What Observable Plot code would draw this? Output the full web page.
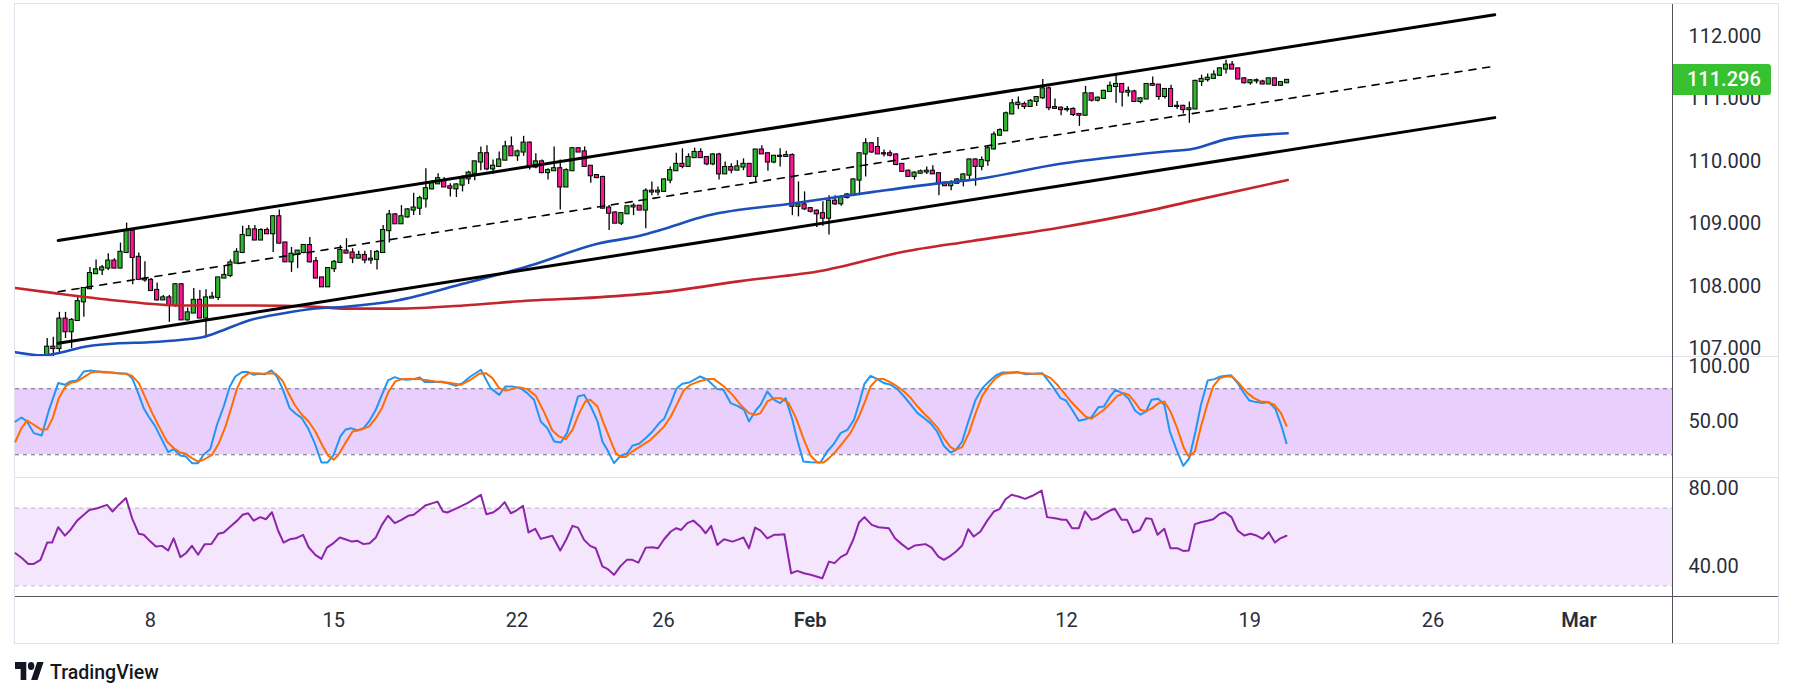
<!DOCTYPE html>
<html><head><meta charset="utf-8">
<script src="https://cdn.jsdelivr.net/npm/d3@7"></script>
<script src="https://cdn.jsdelivr.net/npm/@observablehq/plot@0.6"></script>
<style>
html,body{margin:0;padding:0;background:#fff;width:1793px;height:697px;overflow:hidden;font-family:Roboto,sans-serif;}
.abs{position:absolute;}
.pane{position:absolute;left:15px;width:1763px;}
.pane svg{display:block;max-width:none;}
</style></head><body>
<div id="frame" class="abs" style="left:14px;top:3px;width:1765px;height:641px;border:1px solid #e0e3eb;box-sizing:border-box;"></div>
<div id="p-main" class="pane" style="top:4px;"></div>
<div id="p-stoch" class="pane" style="top:356px;"></div>
<div id="p-rsi" class="pane" style="top:478px;"></div>
<div id="p-time" class="pane" style="top:597px;"></div>
<script>
// ---------- data ----------
// 4h candles [open, high, low, close], bar index 0..203
const candles = [
[106.80,107.16,106.70,107.02],[107.02,107.18,106.86,107.00],[107.00,107.58,106.92,107.47],[107.47,107.58,107.16,107.27],
[107.27,107.48,107.00,107.45],[107.45,107.82,107.44,107.75],[107.75,107.97,107.50,107.96],[107.96,108.30,107.94,108.20],
[108.20,108.42,108.19,108.26],[108.26,108.33,108.17,108.29],[108.29,108.52,108.25,108.40],[108.40,108.44,108.28,108.29],
[108.29,108.69,108.28,108.54],[108.54,109.01,108.52,108.88],[108.88,108.89,108.02,108.46],[108.46,108.53,108.09,108.11],
[108.11,108.39,108.06,108.10],[108.09,108.12,107.92,107.93],[107.93,108.05,107.76,107.78],[107.78,107.85,107.77,107.81],
[107.81,107.85,107.42,107.69],[107.69,108.04,107.66,108.02],[108.02,108.04,107.45,107.46],[107.46,107.65,107.44,107.57],
[107.57,107.96,107.56,107.77],[107.77,107.93,107.48,107.49],[107.49,107.94,107.21,107.81],[107.81,107.90,107.80,107.82],
[107.82,108.14,107.77,108.13],[108.13,108.33,108.12,108.17],[108.17,108.42,108.14,108.37],[108.37,108.60,108.36,108.54],
[108.54,108.96,108.53,108.81],[108.81,108.97,108.80,108.90],[108.90,108.97,108.73,108.74],[108.74,108.92,108.73,108.89],
[108.89,108.93,108.83,108.84],[108.84,109.13,108.54,109.11],[109.11,109.22,108.68,108.69],[108.69,108.70,108.38,108.39],
[108.39,108.62,108.22,108.51],[108.51,108.57,108.28,108.56],[108.54,108.65,108.52,108.65],[108.65,108.78,108.37,108.39],
[108.39,108.46,108.12,108.13],[108.13,108.14,107.98,107.99],[107.99,108.30,107.98,108.28],[108.28,108.41,108.22,108.38],
[108.38,108.65,108.36,108.57],[108.56,108.76,108.52,108.53],[108.53,108.60,108.36,108.45],[108.45,108.56,108.44,108.49],
[108.49,108.56,108.36,108.42],[108.42,108.57,108.35,108.43],[108.43,108.57,108.26,108.54],[108.54,108.97,108.53,108.89],
[108.89,109.21,108.69,109.14],[109.14,109.16,108.99,109.00],[109.00,109.29,108.99,109.11],[109.11,109.24,109.09,109.22],
[109.22,109.49,109.13,109.25],[109.25,109.44,109.13,109.40],[109.40,109.88,109.25,109.56],[109.56,109.69,109.54,109.64],
[109.64,109.80,109.63,109.72],[109.69,109.74,109.58,109.59],[109.59,109.64,109.43,109.57],[109.56,109.64,109.42,109.62],
[109.62,109.77,109.51,109.72],[109.72,109.84,109.63,109.81],[109.81,109.99,109.69,109.99],[109.99,110.23,109.85,110.12],
[110.12,110.25,109.85,109.88],[109.88,110.02,109.79,109.92],[109.92,110.15,109.91,110.02],[110.02,110.32,110.01,110.23],
[110.23,110.39,110.08,110.09],[110.09,110.18,110.00,110.15],[110.15,110.40,110.08,110.29],[110.29,110.31,109.86,109.93],
[109.91,110.12,109.88,109.99],[109.99,110.02,109.80,109.82],[109.82,109.88,109.70,109.85],[109.85,110.23,109.85,109.88],
[109.88,110.02,109.22,109.59],[109.59,109.88,109.58,109.85],[109.85,110.22,109.84,110.20],[110.20,110.22,110.14,110.15],
[110.15,110.23,109.91,109.92],[109.92,109.93,109.65,109.77],[109.77,109.79,109.72,109.74],[109.74,109.76,109.25,109.25],
[109.25,109.29,108.89,109.17],[109.17,109.19,109.01,109.01],[109.01,109.17,108.97,109.16],[109.16,109.28,109.15,109.27],
[109.27,109.32,109.13,109.28],[109.28,109.29,109.21,109.22],[109.22,109.56,108.92,109.52],[109.52,109.67,109.45,109.51],
[109.51,109.59,109.45,109.52],[109.52,109.72,109.50,109.70],[109.70,109.91,109.64,109.85],[109.85,110.13,109.85,109.95],
[109.95,110.20,109.88,109.92],[109.92,110.12,109.91,110.06],[110.06,110.21,110.05,110.14],[110.14,110.20,110.05,110.06],
[110.06,110.07,109.93,109.96],[109.96,110.12,109.93,110.10],[110.10,110.13,109.70,109.80],[109.80,109.99,109.79,109.90],
[109.90,109.96,109.80,109.86],[109.86,110.01,109.85,109.91],[109.91,110.04,109.85,109.95],[109.95,109.96,109.75,109.76],
[109.76,110.19,109.67,110.18],[110.18,110.25,110.11,110.12],[110.12,110.13,109.84,109.99],[109.99,110.09,109.96,110.08],
[110.08,110.20,109.91,110.08],[110.08,110.16,110.07,110.09],[110.09,110.12,109.13,109.28],[109.28,109.67,109.11,109.30],
[109.30,109.51,109.21,109.24],[109.24,109.25,109.17,109.20],[109.20,109.22,108.94,109.16],[109.16,109.35,108.96,109.09],
[109.09,109.45,108.82,109.36],[109.36,109.45,109.29,109.32],[109.32,109.45,109.28,109.42],[109.42,109.48,109.40,109.46],
[109.46,109.72,109.45,109.70],[109.70,110.13,109.45,110.12],[110.12,110.36,109.75,110.28],[110.28,110.29,110.13,110.15],
[110.22,110.38,110.11,110.12],[110.12,110.18,110.07,110.12],[110.12,110.17,110.07,110.10],[110.10,110.12,109.93,109.95],
[109.95,109.96,109.83,109.84],[109.84,109.86,109.75,109.76],[109.76,109.83,109.70,109.81],[109.81,109.86,109.80,109.83],
[109.83,109.91,109.79,109.84],[109.84,109.93,109.79,109.80],[109.80,109.81,109.45,109.65],[109.65,109.67,109.60,109.61],
[109.61,109.69,109.53,109.65],[109.65,109.72,109.64,109.70],[109.70,109.80,109.59,109.78],[109.78,110.04,109.69,110.02],
[110.02,110.04,109.60,109.92],[109.92,110.07,109.85,110.01],[110.01,110.25,109.92,110.20],[110.20,110.47,110.18,110.42],
[110.42,110.52,110.40,110.49],[110.49,110.79,110.48,110.76],[110.76,110.99,110.75,110.92],[110.91,111.03,110.83,110.93],
[110.91,110.95,110.83,110.88],[110.88,110.99,110.87,110.96],[110.96,111.04,110.88,111.02],[111.02,111.31,110.99,111.16],
[111.16,111.19,110.81,110.86],[110.86,111.00,110.84,110.85],[110.85,110.87,110.73,110.83],[110.83,110.88,110.79,110.83],
[110.83,110.86,110.72,110.75],[110.75,110.76,110.56,110.74],[110.74,111.20,110.73,111.08],[111.08,111.09,110.95,110.98],
[110.98,111.03,110.95,111.01],[111.01,111.14,110.99,111.12],[111.12,111.27,111.11,111.20],[111.20,111.38,110.93,111.23],
[111.23,111.24,110.87,111.11],[111.11,111.19,111.03,111.12],[111.11,111.14,110.95,110.96],[110.96,111.02,110.92,111.00],
[111.00,111.24,110.99,111.23],[111.23,111.35,111.20,111.22],[111.22,111.22,110.98,111.04],[111.04,111.16,111.00,111.15],
[111.15,111.22,110.87,110.88],[110.88,110.96,110.83,110.88],[110.88,110.90,110.76,110.83],[110.83,110.95,110.61,110.84],
[110.84,111.30,110.83,111.28],[111.28,111.38,111.20,111.31],[111.31,111.40,111.27,111.33],[111.33,111.45,111.32,111.38],
[111.38,111.50,111.36,111.48],[111.48,111.62,111.40,111.54],[111.54,111.60,111.47,111.48],[111.48,111.48,111.31,111.32],
[111.32,111.34,111.24,111.26],[111.26,111.31,111.22,111.29],[111.29,111.32,111.24,111.29],[111.27,111.30,111.23,111.24],
[111.24,111.33,111.23,111.32],[111.32,111.33,111.20,111.22],[111.22,111.27,111.20,111.26],[111.26,111.31,111.25,111.296]
];
// moving averages [bar index, value]
const blueMA = [[-5.2,106.94],[-0.8,106.89],[2.5,106.94],[5.7,107.02],[11.2,107.08],[16.6,107.10],[22.1,107.14],[25.4,107.18],[28.7,107.29],[33.0,107.45],[38.5,107.56],[43.9,107.64],[48.8,107.67],[57.3,107.77],[68.2,108.04],[79.1,108.33],[90.1,108.68],[97.2,108.81],[100.4,108.90],[108.1,109.13],[121.7,109.32],[135.3,109.51],[146.3,109.65],[151.2,109.70],[165.9,109.96],[182.3,110.15],[187.7,110.20],[193.3,110.36],[203.1,110.45]];
const redMA = [[-5.2,107.97],[0.2,107.90],[11.2,107.77],[22.1,107.69],[33.0,107.69],[43.9,107.67],[48.8,107.64],[57.3,107.64],[68.2,107.69],[79.1,107.77],[90.1,107.82],[100.4,107.90],[113.5,108.08],[127.1,108.25],[140.2,108.55],[151.2,108.72],[165.9,108.94],[179.5,109.19],[187.7,109.37],[203.1,109.70]];
// channel drawing [bar index, price]
const channelUpper = [[1.8,108.73],[237.0,112.35]];
const channelLower = [[1.8,107.085],[237.0,110.70]];
const channelMid = [[1.8,107.91],[237.0,111.525]];
// stochastic %K / %D [bar index, value]
const stochK = [[-5.2,50.3],[-4.2,53.9],[-3.3,50.3],[-2.2,39.7],[-0.9,37.6],[0.3,60.9],[1.8,85.2],[2.9,83.6],[3.8,86.7],[4.9,87.6],[6.0,95.8],[7.1,96.7],[8.2,95.8],[9.3,94.8],[10.6,94.8],[11.7,94.2],[13.1,93.6],[13.9,89.7],[14.7,79.1],[15.8,62.4],[16.6,54.8],[17.7,45.8],[18.8,33.6],[19.8,22.4],[20.7,25.2],[21.8,19.4],[22.7,18.5],[23.7,12.4],[24.7,12.4],[25.6,20.0],[26.7,25.2],[27.8,47.3],[28.9,63.9],[29.9,82.1],[30.8,91.2],[31.9,95.2],[32.9,95.2],[33.8,92.7],[34.6,93.6],[35.7,93.3],[36.7,96.7],[37.6,91.2],[38.5,80.6],[39.7,62.4],[40.7,57.3],[41.7,53.3],[42.7,44.2],[43.8,30.6],[44.9,13.0],[45.9,13.0],[46.9,20.0],[48.0,36.7],[48.8,42.7],[49.7,44.2],[50.8,42.1],[51.8,44.2],[52.7,50.3],[53.8,60.9],[54.8,74.5],[55.8,87.6],[56.9,90.6],[57.8,88.8],[58.9,88.2],[60.0,88.8],[61.0,90.3],[61.8,86.1],[63.0,86.4],[64.4,86.1],
[65.5,85.2],[66.9,82.7],[68.0,85.2],[69.3,91.2],[71.0,97.3],[72.6,80.6],[74.0,74.5],[75.0,82.1],[76.1,82.1],[77.5,80.6],[78.6,76.1],[79.7,70.0],[80.8,50.3],[81.9,44.2],[83.0,32.1],[84.1,31.2],[85.1,39.7],[86.1,57.9],[86.9,73.0],[87.9,74.5],[89.0,63.9],[90.1,50.3],[90.9,32.1],[91.7,24.5],[92.8,12.4],[93.9,19.1],[95.0,21.5],[95.8,28.2],[96.9,30.0],[98.0,35.2],[99.1,41.2],[100.2,48.8],[101.0,52.7],[102.1,67.0],[103.0,80.0],[104.0,84.5],[105.1,85.8],[105.9,88.2],[106.9,91.2],[108.1,88.2],[109.7,79.7],[110.7,79.1],[111.9,67.0],[113.0,64.5],[114.1,60.9],[114.9,50.3],[116.0,60.3],[116.8,65.5],[117.9,77.6],[119.0,70.0],[120.0,67.0],[120.9,71.5],[122.0,51.8],[122.8,33.6],[123.8,13.9],[125.0,13.3],[126.6,13.0],[127.7,23.0],[128.8,30.0],[129.9,39.7],[131.0,42.7],[132.1,51.8],[133.1,70.0],[133.8,84.5],[134.8,91.8],
[135.9,88.8],[137.0,85.2],[138.1,83.6],[139.2,79.7],[140.3,73.0],[141.4,65.5],[142.5,57.9],[143.6,53.3],[144.6,48.8],[145.7,41.2],[146.8,28.2],[147.9,22.1],[148.8,24.5],[149.8,32.1],[150.9,51.8],[152.0,70.0],[153.1,80.6],[154.2,86.7],[155.3,92.1],[156.4,94.8],[157.5,94.8],[158.8,95.2],[160.2,93.3],[161.6,93.6],[162.9,94.2],[164.0,86.7],[164.8,80.6],[165.9,71.5],[166.8,69.4],[167.8,60.9],[168.9,50.9],[170.0,52.4],[171.0,54.2],[172.1,63.3],[173.0,63.9],[174.1,73.6],[174.9,79.1],[176.0,76.1],[177.0,71.5],[178.1,60.3],[179.0,56.4],[179.9,59.4],[180.8,70.0],[181.9,70.9],[182.9,65.5],[183.8,41.2],[184.9,24.5],[186.0,10.0],[187.0,17.0],[188.0,41.2],[188.9,65.5],[190.0,87.6],[191.1,88.8],[192.1,91.2],[193.8,92.4],[194.9,85.2],[196.0,75.5],[196.8,69.4],[197.9,67.9],[199.0,67.0],[200.0,67.9],[201.1,61.5],[202.1,45.8],[202.9,30.6]];
const stochD = [[-5.2,32.1],[-4.2,44.2],[-3.3,51.2],[-2.2,47.3],[-0.9,42.7],[0.0,43.3],[0.9,53.3],[1.9,71.5],[3.0,82.1],[4.0,85.8],[4.9,86.7],[6.0,90.6],[7.2,94.8],[8.4,95.8],[9.8,95.2],[11.2,94.2],[12.8,93.6],[13.9,91.8],[15.0,85.2],[16.1,71.5],[17.2,57.9],[18.3,45.8],[19.6,32.1],[20.7,26.1],[21.8,22.1],[22.7,20.9],[23.7,17.0],[24.7,13.9],[25.6,15.5],[27.0,20.0],[28.1,30.6],[29.2,45.8],[30.2,63.9],[31.1,80.6],[31.9,89.7],[33.0,94.2],[34.1,94.2],[35.2,93.6],[36.3,94.2],[37.4,93.6],[38.5,87.6],[39.5,76.1],[40.5,65.5],[41.7,56.4],[42.8,50.3],[43.9,41.2],[45.0,29.1],[46.0,19.1],[46.9,15.5],[47.7,20.0],[48.8,30.6],[50.0,41.2],[51.6,43.3],[52.7,45.8],[53.8,53.3],[54.8,62.4],[55.9,77.6],[57.0,86.7],[58.1,88.8],[59.5,88.8],[60.9,88.8],[62.5,87.6],[63.9,86.1],
[64.4,86.7],[66.0,85.2],[67.7,83.6],[69.3,88.2],[70.7,93.6],[71.8,94.2],[72.9,89.7],[74.0,80.6],[75.0,78.5],[76.1,79.7],[77.2,81.5],[78.6,79.7],[80.0,73.6],[81.3,59.4],[82.7,42.1],[83.8,36.7],[84.9,34.2],[86.0,42.7],[87.1,57.9],[88.1,68.5],[88.9,70.0],[90.1,63.9],[91.1,48.8],[92.2,33.6],[93.1,21.5],[93.9,17.9],[94.7,17.9],[95.8,23.0],[97.1,27.6],[98.8,33.6],[100.2,41.2],[101.0,45.8],[102.1,54.8],[103.2,67.0],[104.2,78.5],[105.3,83.6],[106.7,86.7],[108.1,88.8],[109.2,88.8],[110.8,82.1],[112.2,74.5],[113.5,65.5],[114.9,57.9],[116.0,56.4],[116.8,57.9],[117.9,68.5],[119.0,71.5],[120.1,71.5],[121.4,67.0],[122.6,53.3],[123.9,33.6],[125.0,19.1],[126.1,13.0],[127.1,13.0],[128.0,17.0],[129.1,23.0],[130.2,30.6],[131.5,39.7],[132.9,54.8],[134.0,70.0],[134.8,82.1],
[135.9,88.8],[137.0,88.8],[138.1,85.8],[139.2,82.1],[140.3,77.6],[141.4,71.5],[142.5,63.9],[143.6,57.3],[144.6,51.8],[145.7,45.2],[146.8,35.2],[147.9,27.0],[148.7,24.5],[149.8,27.0],[150.9,39.7],[152.0,57.9],[153.1,73.6],[154.2,82.7],[155.3,89.7],[156.4,93.6],[157.5,94.2],[158.8,94.8],[160.2,94.2],[161.6,93.6],[162.9,93.6],[164.3,89.7],[165.4,83.6],[166.5,76.1],[167.6,68.5],[168.9,60.9],[170.0,54.8],[171.0,52.7],[172.1,57.3],[173.0,60.9],[174.1,67.0],[175.2,73.6],[176.3,76.1],[177.1,74.5],[178.1,67.6],[179.0,60.9],[179.9,59.4],[180.9,62.4],[182.0,67.0],[182.9,68.5],[183.9,59.4],[185.0,44.2],[186.1,26.1],[186.9,18.5],[187.9,23.0],[188.9,45.8],[190.0,67.0],[190.9,82.1],[192.0,89.7],[193.0,91.2],[194.0,91.2],[195.1,85.2],[196.5,76.1],[197.6,71.5],[198.7,68.5],[199.8,67.9],[200.9,65.5],[202.0,57.9],[202.9,46.4]];
// RSI [bar index, value]
const rsi = [[-5.2,46.8],[-4.1,44.2],[-3.1,41.3],[-2.2,41.3],[-1.1,43.4],[0.0,52.3],[0.8,52.3],[1.8,60.2],[2.9,55.9],[3.8,58.8],[4.9,63.6],[6.0,66.6],[6.9,69.1],[8.2,70.0],[9.8,71.7],[10.7,68.3],[11.7,71.7],[12.9,75.2],[13.9,64.8],[15.0,56.8],[15.8,56.3],[16.9,52.8],[17.8,50.3],[18.8,50.6],[19.8,48.2],[20.7,54.5],[21.8,44.8],[22.7,46.8],[23.7,50.6],[24.7,46.0],[25.8,51.5],[26.9,51.6],[28.0,56.8],[28.9,57.5],[30.0,60.6],[31.1,63.6],[32.0,66.6],[32.9,67.4],[33.8,63.6],[34.9,65.4],[35.8,64.3],[36.8,67.9],[37.8,58.5],[38.7,52.3],[39.7,54.0],[40.7,54.5],[41.9,56.3],[42.8,49.9],[43.9,46.0],[44.9,43.9],[45.8,49.7],[46.7,51.6],[47.9,54.9],[48.8,54.0],[49.9,52.8],[50.8,53.2],[51.8,51.5],[52.8,52.0],[53.8,54.9],[54.8,61.4],[55.8,66.1],[56.9,62.3],[58.0,64.0],[59.1,66.1],[60.0,66.6],[61.0,69.1],[61.9,71.4],[63.9,73.4],[64.8,68.3],
[65.5,67.8],[67.1,70.0],[68.8,72.6],[71.0,76.9],[71.9,66.9],[73.0,67.8],[74.0,70.0],[74.9,73.1],[75.9,67.4],[76.8,68.8],[77.9,71.2],[78.8,57.5],[79.9,59.4],[80.8,54.2],[82.7,55.8],[84.0,48.2],[85.0,54.0],[86.0,60.9],[86.9,60.0],[87.9,53.7],[88.9,50.6],[89.8,49.4],[90.9,40.0],[91.8,38.6],[92.8,35.7],[93.9,40.3],[94.9,43.4],[95.8,43.4],[96.8,42.0],[98.0,49.7],[99.1,49.9],[100.0,49.4],[101.0,54.0],[102.1,58.0],[103.0,59.7],[103.8,58.8],[104.8,62.3],[105.8,63.6],[106.9,60.6],[107.8,57.1],[108.7,60.9],[109.7,51.1],[110.8,54.0],[112.2,52.8],[113.0,53.7],[114.0,54.9],[114.9,49.4],[115.9,60.0],[116.8,58.5],[117.9,54.5],[119.0,56.3],[119.8,56.3],[120.7,56.6],[121.8,36.5],[122.8,37.7],[123.9,36.5],[125.0,35.7],[126.9,33.9],[128.0,42.5],[128.9,41.7],[129.9,44.8],[130.9,46.5],[132.0,54.0],[132.9,62.6],[133.8,65.4],
[135.0,61.4],[136.1,60.2],[137.8,59.7],[138.8,54.5],[139.9,51.5],[141.0,48.9],[142.1,50.8],[143.8,51.5],[144.8,49.7],[145.9,45.1],[146.8,43.4],[147.9,45.5],[148.8,47.7],[149.8,50.8],[150.8,59.2],[151.7,55.4],[152.8,58.0],[153.9,63.6],[155.0,68.3],[155.9,69.5],[156.9,74.6],[157.9,76.9],[159.0,76.0],[160.1,74.8],[161.3,76.4],[162.8,79.1],[163.7,65.4],[165.0,64.8],[166.2,64.0],[166.9,64.0],[167.8,59.7],[168.9,59.7],[169.9,68.3],[171.0,64.0],[171.9,64.8],[173.0,67.1],[174.0,68.8],[174.8,69.7],[175.9,64.0],[176.8,64.0],[177.8,57.5],[178.9,58.8],[179.9,64.8],[180.8,64.5],[181.8,56.3],[182.9,59.4],[183.9,49.4],[185.0,49.4],[186.0,48.0],[186.9,48.2],[187.9,61.8],[188.9,62.8],[190.0,63.5],[190.9,64.3],[192.0,67.1],[192.8,67.9],[193.9,65.4],[194.9,58.5],[196.0,55.9],[197.0,56.8],[198.0,55.9],[199.0,54.2],[200.0,57.6],[201.0,52.3],[201.9,54.5],[202.9,55.8]];
const stochBand = [20, 80];
const rsiBand = [30, 70];
const priceTicks = [107, 108, 109, 110, 111, 112];
const stochTicks = [50, 100];
const rsiTicks = [40, 80];
// time axis: [bar index, label]
const timeTicks = [[16.9,"8"],[46.9,"15"],[76.9,"22"],[100.9,"26"],[124.9,"Feb"],[166.9,"12"],[196.9,"19"],[226.9,"26"],[250.8,"Mar"]];
const lastPrice = 111.296;

// ---------- layout ----------
const xDomain = [-5.19, 266.1];
const TXT = "#2a2e39";
const base = {
  width: 1763, marginLeft: 0, marginRight: 106, marginTop: 0, marginBottom: 0,
  x: {type: "linear", domain: xDomain, axis: null},
  style: {fontFamily: "Roboto, sans-serif", fontSize: "20px", color: TXT, background: "transparent", overflow: "visible"}
};
const bars = candles.map(([o, h, l, c], i) => ({i, o, h, l, c, lo: Math.min(o, c), hi: Math.max(o, c)}));
const up = bars.filter(d => d.c >= d.o), down = bars.filter(d => d.c < d.o);
const X = d => d[0], Y = d => d[1];

const main = Plot.plot({
  ...base, height: 352,
  y: {domain: [106.872, 112.513]},
  marks: [
    Plot.axisY({anchor: "right", ticks: priceTicks, tickFormat: d3.format(".3f"), tickSize: 0, tickPadding: 16, fontSize: 20, fill: TXT}),
    Plot.ruleX(bars, {x: "i", y1: "l", y2: "h", stroke: "#000", strokeWidth: 1.3, clip: true}),
    Plot.rect(up, {x1: d => d.i - 0.34, x2: d => d.i + 0.34, y1: "lo", y2: "hi", fill: "#2fb82f", stroke: "#000", strokeWidth: 1, insetTop: -0.6, insetBottom: -0.6, clip: true}),
    Plot.rect(down, {x1: d => d.i - 0.34, x2: d => d.i + 0.34, y1: "lo", y2: "hi", fill: "#ff1493", stroke: "#000", strokeWidth: 1, insetTop: -0.6, insetBottom: -0.6, clip: true}),
    Plot.line(redMA, {x: X, y: Y, stroke: "#c4242b", strokeWidth: 2.6, curve: "monotone-x", clip: true}),
    Plot.line(blueMA, {x: X, y: Y, stroke: "#1c4fba", strokeWidth: 2.6, curve: "monotone-x", clip: true}),
    Plot.line(channelUpper, {x: X, y: Y, stroke: "#000", strokeWidth: 3}),
    Plot.line(channelLower, {x: X, y: Y, stroke: "#000", strokeWidth: 3}),
    Plot.line(channelMid, {x: X, y: Y, stroke: "#000", strokeWidth: 1.6, strokeDasharray: "7,7"})
  ]
});
document.getElementById("p-main").append(main);

const stoch = Plot.plot({
  ...base, height: 122,
  y: {domain: [-1.55, 109.36]},
  marks: [
    Plot.rect([stochBand], {x1: xDomain[0], x2: xDomain[1], y1: d => d[0], y2: d => d[1], fill: "#e9cffc"}),
    Plot.ruleY(stochBand, {stroke: "#6a6d78", strokeWidth: 1, strokeDasharray: "4,4"}),
    Plot.line(stochK, {x: X, y: Y, stroke: "#2196f3", strokeWidth: 2}),
    Plot.line(stochD, {x: X, y: Y, stroke: "#ff6d00", strokeWidth: 2}),
    Plot.axisY({anchor: "right", ticks: stochTicks, tickFormat: d3.format(".2f"), tickSize: 0, tickPadding: 16, fontSize: 20, fill: TXT})
  ]
});
document.getElementById("p-stoch").append(stoch);

const rsiPlot = Plot.plot({
  ...base, height: 119,
  y: {domain: [24.02, 85.29]},
  marks: [
    Plot.rect([rsiBand], {x1: xDomain[0], x2: xDomain[1], y1: d => d[0], y2: d => d[1], fill: "#f3e6fd"}),
    Plot.ruleY(rsiBand, {stroke: "#b6b8c0", strokeWidth: 1, strokeDasharray: "4,4"}),
    Plot.line(rsi, {x: X, y: Y, stroke: "#8e24aa", strokeWidth: 2}),
    Plot.axisY({anchor: "right", ticks: rsiTicks, tickFormat: d3.format(".2f"), tickSize: 0, tickPadding: 16, fontSize: 20, fill: TXT})
  ]
});
document.getElementById("p-rsi").append(rsiPlot);

const isMonth = d => isNaN(+d[1]);
const timePlot = Plot.plot({
  ...base, height: 46,
  marks: [
    Plot.text(timeTicks.filter(d => !isMonth(d)), {x: X, text: Y, frameAnchor: "middle", fontSize: 20, fill: TXT}),
    Plot.text(timeTicks.filter(isMonth), {x: X, text: Y, frameAnchor: "middle", fontSize: 20, fontWeight: 600, fill: TXT})
  ]
});
document.getElementById("p-time").append(timePlot);

// ---------- separators & last price label ----------
function line(l, t, w, h, c) {
  const d = document.createElement("div");
  d.className = "abs";
  Object.assign(d.style, {left: l + "px", top: t + "px", width: w + "px", height: h + "px", background: c});
  document.body.append(d);
}
line(15, 356, 1763, 1, "#e0e3eb");
line(15, 477, 1763, 1, "#e0e3eb");
line(15, 596, 1763, 1, "#50535e");
line(1672, 4, 1, 639, "#50535e");

const yPx = main.scale("y").apply(lastPrice) + 4;
const lab = document.createElement("div");
lab.className = "abs";
lab.textContent = d3.format(".3f")(lastPrice);
Object.assign(lab.style, {left: "1673px", top: (yPx - 15.5) + "px", width: "98px", height: "31px", lineHeight: "31px",
  background: "#37c02f", color: "#fff", fontSize: "20px", fontWeight: "500", paddingLeft: "14px", boxSizing: "border-box",
  borderRadius: "0 3px 3px 0", fontFamily: "Roboto, sans-serif"});
document.body.append(lab);
</script>
<svg class="abs" style="left:15px;top:660px" width="160" height="24">
  <svg x="0" y="2" width="29" height="18" viewBox="0 4 36 18" preserveAspectRatio="none">
    <path d="M14 22H7V11H0V4h14v18zM28 22h-8l7.5-18h8L28 22z" fill="#131722"/>
    <circle cx="20" cy="8" r="4" fill="#131722"/>
  </svg>
  <text x="35" y="19" font-family="Roboto, sans-serif" font-size="19.5" font-weight="500" fill="#131722">TradingView</text>
</svg>
</body></html>
